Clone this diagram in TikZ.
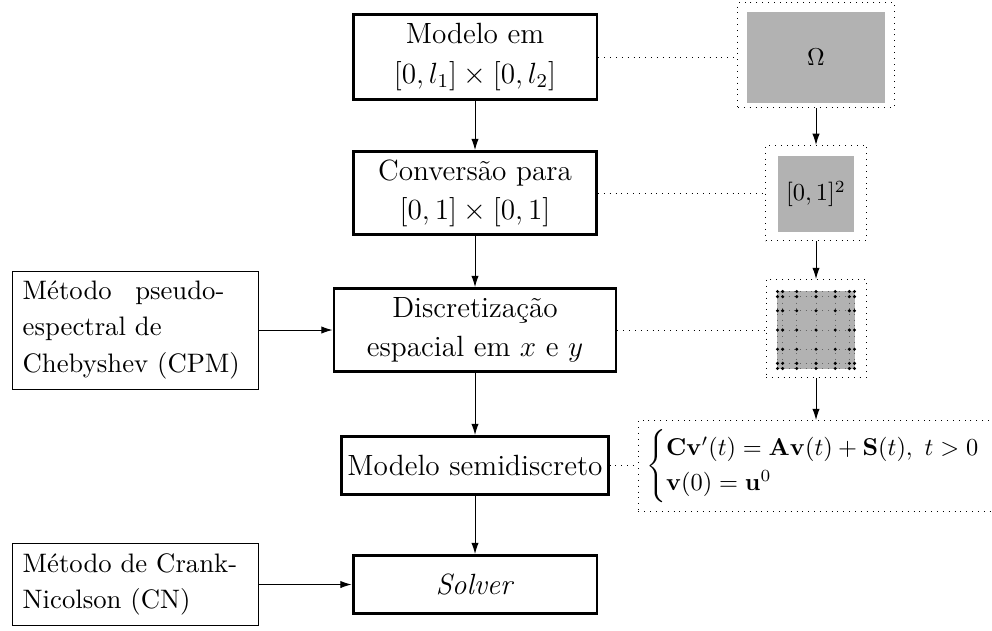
\documentclass[tikz,border=0pt]{standalone}
\usepackage{amsmath}
\usetikzlibrary{arrows.meta}
\begin{document}
\begin{tikzpicture}[x=0.41pt,y=-0.41pt,
  mainbox/.style={draw, line width=1.2pt, align=center, inner sep=0pt,
    font=\fontsize{12}{16}\selectfont},
  sidebox/.style={draw, line width=0.4pt, align=left, text width=92.5pt,
    inner xsep=4pt, inner ysep=0pt, font=\fontsize{10.95}{14.9}\selectfont},
  framebox/.style={draw, dotted, line width=0.4pt, inner sep=0pt},
  greybox/.style={fill=black!30, inner sep=0pt},
  flow/.style={-{Latex[length=4.6pt,width=3pt]}, line width=0.4pt},
  link/.style={dotted, line width=0.4pt},
]
\useasboundingbox (0,0) rectangle (992,630);

% main flow
\node[mainbox, minimum width=100pt, minimum height=34.9pt] (m1) at (475,57)
  {Modelo em\\ $[0,l_1]\times[0,l_2]$};
\node[mainbox, minimum width=99.6pt, minimum height=34pt] (m2) at (475,193)
  {Convers\~ao para\\ $[0,1]\times[0,1]$};
\node[mainbox, minimum width=115.6pt, minimum height=34pt] (m3) at (475,330)
  {Discretiza\c{c}\~ao\\ espacial em $x$ e $y$};
\node[mainbox, minimum width=109.1pt, minimum height=23.8pt] (m4) at (475,465.5)
  {Modelo semidiscreto};
\node[mainbox, minimum width=100pt, minimum height=23.8pt] (m5) at (475,584.5)
  {\textit{Solver}};

% methods
\node[sidebox, minimum height=48.4pt] (cpm) at (135.5,330)
  {M\'etodo\hspace{6pt} pseudo-\\ espectral de\\ Chebyshev (CPM)};
\node[sidebox, minimum height=34pt] (cn) at (135.5,584.5)
  {M\'etodo de Crank-\\ Nicolson (CN)};

% domain sketches
\node[framebox, minimum width=64pt, minimum height=43.1pt] (omf) at (816,55) {};
\node[greybox, minimum width=56.2pt, minimum height=37.3pt] (omg) at (816,57.5) {$\Omega$};

\node[framebox, minimum width=41.4pt, minimum height=39pt] (sqf) at (816,193) {};
\node[greybox, minimum width=31.2pt, minimum height=31.2pt] (sqg) at (816,194) {$[0,1]^2$};

\node[framebox, minimum width=41pt, minimum height=40.2pt] (grf) at (816,328.5) {};
\node[greybox, minimum width=31.6pt, minimum height=31.6pt] (grg) at (816,330) {};
\foreach \i in {0,...,6}{
  \draw[dotted, line width=0.3pt, black!60]
    ([shift={({38.5*cos(\i*30)},-38.5)}]grg.center) -- ([shift={({38.5*cos(\i*30)},38.5)}]grg.center);
  \draw[dotted, line width=0.3pt, black!60]
    ([shift={(-38.5,{38.5*cos(\i*30)})}]grg.center) -- ([shift={(38.5,{38.5*cos(\i*30)})}]grg.center);
}
\foreach \i in {0,...,6}{
  \foreach \j in {0,...,6}{
    \fill ([shift={({38.5*cos(\i*30)},{38.5*cos(\j*30)})}]grg.center) circle[radius=0.7pt];
  }
}

% semidiscrete system
\node[framebox, minimum width=145.6pt, minimum height=37.3pt] (eqf) at (816,466) {};
\node[inner sep=0pt, font=\fontsize{9.8}{12}\selectfont, xshift=4pt] (eqt) at (eqf.center)
  {$\begin{cases}
    \mathbf{C}\mathbf{v}'(t)=\mathbf{A}\mathbf{v}(t)+\mathbf{S}(t),\ t>0\\
    \mathbf{v}(0)=\mathbf{u}^0
  \end{cases}$};

% arrows
\draw[flow] (m1) -- (m2);
\draw[flow] (m2) -- (m3);
\draw[flow] (m3) -- (m4);
\draw[flow] (m4) -- (m5);
\draw[flow] (cpm) -- (m3);
\draw[flow] (cn) -- (m5);
\draw[flow] (omf) -- (sqf);
\draw[flow] (sqf) -- (grf);
\draw[flow] (grf) -- (eqf);

% dotted links
\draw[link] (m1.east) -- (m1.east -| omf.west);
\draw[link] (m2.east) -- (m2.east -| sqf.west);
\draw[link] (m3.east) -- (m3.east -| grf.west);
\draw[link] (m4.east) -- (m4.east -| eqf.west);
\end{tikzpicture}
\end{document}
